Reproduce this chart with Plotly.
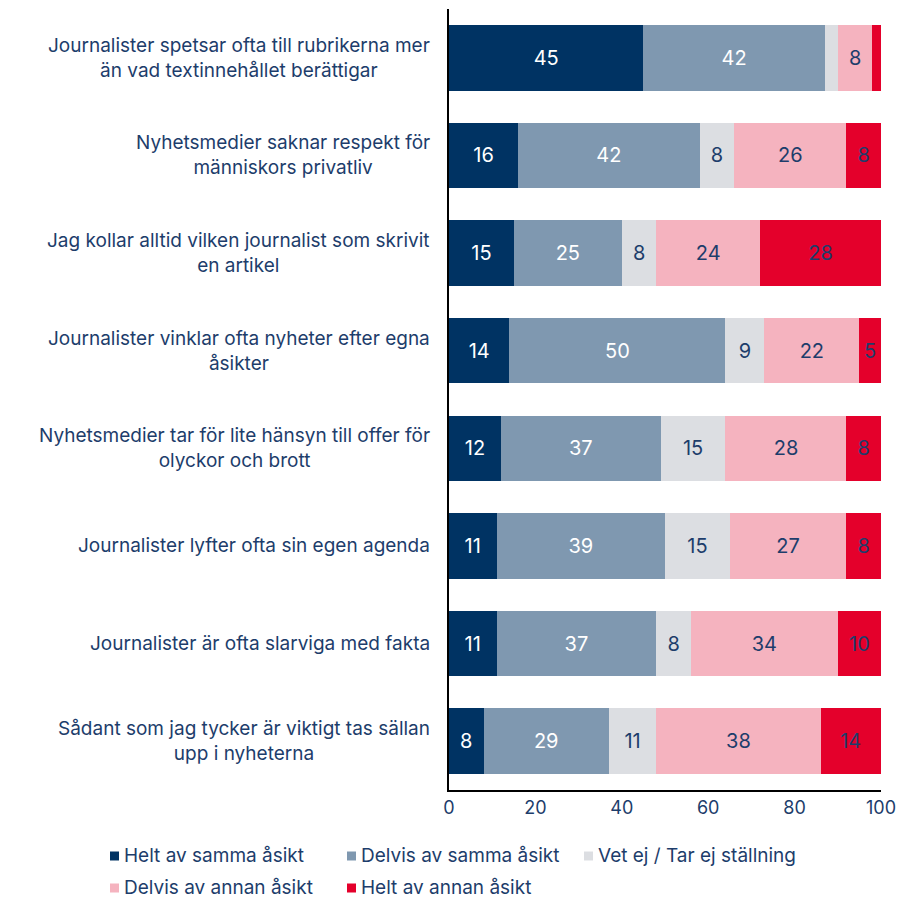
import plotly.graph_objects as go

statements = [
    "Journalister spetsar ofta till rubrikerna mer<br>än vad textinnehållet berättigar",
    "Nyhetsmedier saknar respekt för<br>människors privatliv",
    "Jag kollar alltid vilken journalist som skrivit<br>en artikel",
    "Journalister vinklar ofta nyheter efter egna<br>åsikter",
    "Nyhetsmedier tar för lite hänsyn till offer för<br>olyckor och brott",
    "Journalister lyfter ofta sin egen agenda",
    "Journalister är ofta slarviga med fakta",
    "Sådant som jag tycker är viktigt tas sällan<br>upp i nyheterna",
]

helt_samma = [45, 16, 15, 14, 12, 11, 11, 8]
delvis_samma = [42, 42, 25, 50, 37, 39, 37, 29]
vet_ej = [3, 8, 8, 9, 15, 15, 8, 11]
delvis_annan = [8, 26, 24, 22, 28, 27, 34, 38]
helt_annan = [2, 8, 28, 5, 8, 8, 10, 14]

x_ticks = [0, 20, 40, 60, 80, 100]

NAVY_TEXT = "#1d3d6b"
FONT = "Inter, 'Open Sans', sans-serif"

series = [
    ("Helt av samma åsikt", helt_samma, "#003363", "white"),
    ("Delvis av samma åsikt", delvis_samma, "#7f98b0", "white"),
    ("Vet ej / Tar ej ställning", vet_ej, "#dcdee2", NAVY_TEXT),
    ("Delvis av annan åsikt", delvis_annan, "#f5b3bf", NAVY_TEXT),
    ("Helt av annan åsikt", helt_annan, "#e4002b", NAVY_TEXT),
]

W, H = 899, 901
M_L, M_R, M_T, M_B = 449, 18, 9, 111
PW, PH = W - M_L - M_R, H - M_T - M_B


def px_to_paper_x(px):
    return (px - M_L) / PW


def px_to_paper_y(py):
    return (H - M_B - py) / PH


fig = go.Figure()
for name, vals, color, tcolor in series:
    fig.add_trace(go.Bar(
        name=name,
        y=statements,
        x=vals,
        orientation="h",
        marker=dict(color=color, line=dict(width=0)),
        text=[str(v) if v >= 5 else "" for v in vals],
        textposition="inside",
        insidetextanchor="middle",
        textangle=0,
        textfont=dict(color=tcolor, size=20, family=FONT),
        hoverinfo="x+name",
        showlegend=False,
    ))

# Category labels, centred line by line, to the left of the bars
for s in statements:
    fig.add_annotation(
        x=0, xref="paper", xanchor="right", xshift=-17,
        y=s, yref="y", yanchor="middle",
        text=s, showarrow=False, align="center",
        font=dict(size=19, color=NAVY_TEXT, family=FONT),
    )

# Legend: two rows of small colour squares with labels, three columns
COL_X = [110, 347, 584]
ROW_Y = [856, 888]
SQ = 9
for i, (name, _vals, color, _tc) in enumerate(series):
    cx = COL_X[i % 3]
    cy = ROW_Y[i // 3]
    fig.add_shape(
        type="rect", xref="paper", yref="paper",
        x0=px_to_paper_x(cx), x1=px_to_paper_x(cx + SQ),
        y0=px_to_paper_y(cy + SQ / 2), y1=px_to_paper_y(cy - SQ / 2),
        fillcolor=color, line=dict(width=0),
    )
    fig.add_annotation(
        x=px_to_paper_x(cx + SQ + 3), xref="paper", xanchor="left",
        y=px_to_paper_y(cy), yref="paper", yanchor="middle",
        text=name, showarrow=False,
        font=dict(size=19, color=NAVY_TEXT, family=FONT),
    )

fig.update_layout(
    width=W, height=H,
    barmode="stack",
    bargap=0.33,
    plot_bgcolor="white",
    paper_bgcolor="white",
    margin=dict(l=M_L, r=M_R, t=M_T, b=M_B, autoexpand=False),
    font=dict(family=FONT, color=NAVY_TEXT, size=17),
    uniformtext=dict(mode="show", minsize=10),
    showlegend=False,
)
fig.update_xaxes(
    range=[0, 100], tickvals=x_ticks,
    showgrid=False, zeroline=False,
    showline=True, linecolor="black", linewidth=2,
    ticks="", tickfont=dict(size=18, color=NAVY_TEXT, family=FONT),
)
fig.update_yaxes(
    autorange="reversed",
    showticklabels=False, showgrid=False, zeroline=False,
    showline=True, linecolor="black", linewidth=2, ticks="",
)

fig.write_html("out.html")
